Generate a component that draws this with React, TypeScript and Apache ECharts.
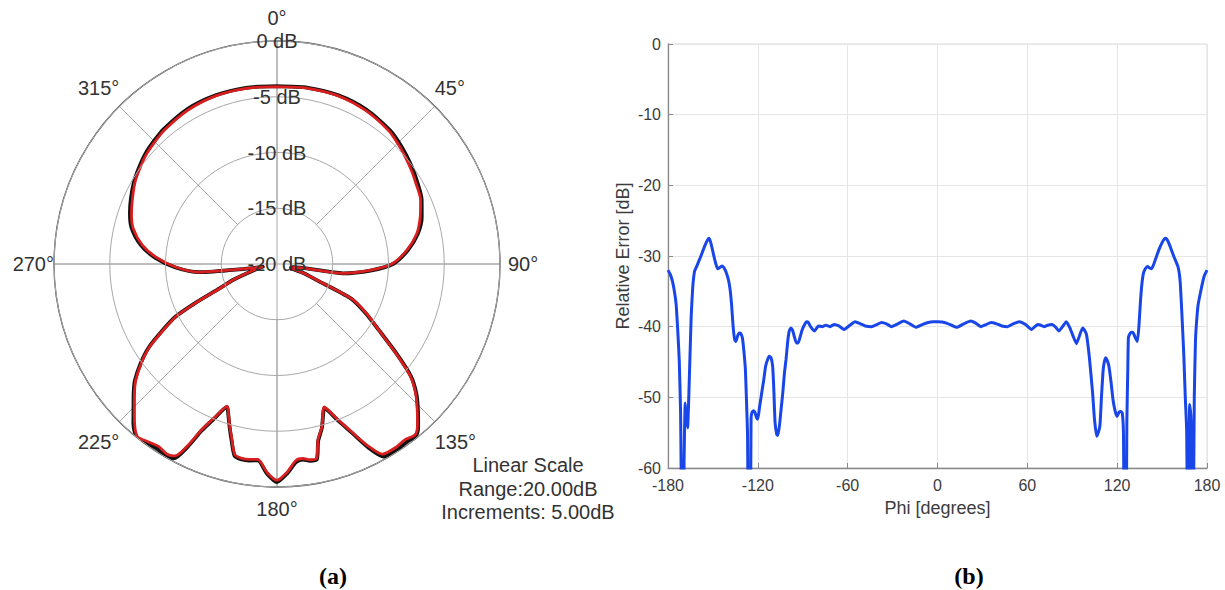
import React, { useEffect, useRef } from 'react';
import * as echarts from 'echarts';

const FONT = '"Liberation Sans", Arial, Helvetica, sans-serif';

// ---- Panel (a): polar pattern ----
const patternAngles = [
  0, 10, 20, 30, 40, 45, 50, 55, 60, 66, 72, 78, 84, 90, 94, 98, 101, 105, 109, 112,
  115, 119, 123, 127, 130, 133, 136, 139, 141, 144, 147, 151, 153.5, 156, 159, 161.8, 163, 164.7, 166.9, 168.5,
  170.5, 172.4, 174.5, 177.2, 180, 182.8, 185.6, 188, 190.5, 192.5, 194.5, 196.5, 198, 199.3, 202, 204.4,
  206, 208, 210, 213, 216, 219, 222, 225, 228, 230.6, 234, 237, 240, 242.5, 244.5, 247, 250, 255, 259,
  261.5, 264, 268, 273, 278, 284, 289, 294, 300, 305, 310, 315, 320, 330, 340, 350, 360,
];
const measuredDb = [
  -4.1, -4.0, -3.95, -4.1, -4.4, -4.7, -5.0, -5.3, -5.6, -5.9, -6.5, -7.2, -8.3, -9.7, -11.7, -14.0, -18.4, -18.6, -17.4, -16.1,
  -12.6, -10.8, -9.1, -6.6, -4.4, -3.0, -1.9, -0.8, -0.3, -0.5, -0.4, -0.5, -1.8, -3.5, -5.2, -6.5, -5.9, -4.8, -3.8, -2.2,
  -2.2, -2.4, -2.3, -1.3, -0.6, -1.3, -2.4, -2.3, -2.3, -2.5, -3.8, -5.0, -5.9, -6.5, -5.2, -3.7,
  -2.0, -0.5, -0.3, -0.5, -0.3, -0.1, -0.9, -1.9, -2.8, -3.6, -5.0, -6.4, -8.3, -9.8, -12.0, -14.5, -15.8, -17.8, -18.6,
  -17.0, -13.0, -11.0, -9.2, -7.8, -6.7, -6.2, -5.8, -5.3, -5.0, -4.7, -4.5, -4.3, -4.05, -3.95, -4.0, -4.1,
];
const simulatedDb = [
  -4.05, -3.95, -3.9, -4.0, -4.3, -4.55, -4.85, -5.15, -5.45, -5.8, -6.35, -7.1, -8.2, -9.6, -11.6, -14.0, -18.5, -18.7, -17.5, -16.2,
  -12.7, -10.9, -9.1, -6.5, -4.3, -2.9, -1.8, -0.7, -0.2, -0.25, -0.15, -0.25, -1.6, -3.4, -5.1, -6.4, -5.85, -4.75, -3.7, -2.1,
  -2.1, -2.3, -2.15, -1.2, -0.45, -1.2, -2.3, -2.2, -2.2, -2.4, -3.7, -4.95, -5.85, -6.4, -5.1, -3.55,
  -1.8, -0.25, -0.05, -0.25, -0.1, 0.0, -0.75, -1.8, -2.7, -3.5, -4.9, -6.3, -8.2, -9.7, -11.9, -14.4, -15.8, -17.9, -18.7,
  -17.1, -13.0, -10.9, -9.05, -7.65, -6.55, -6.05, -5.65, -5.2, -4.9, -4.6, -4.4, -4.2, -3.95, -3.9, -3.95, -4.05,
];
const radiusTicks = { min: -20, max: 0, step: 5 };
const angleTicks = { min: 0, max: 360, step: 45 };
const noteLines = ['Linear Scale', 'Range:20.00dB', 'Increments: 5.00dB'];

// ---- Panel (b): relative error ----
const phiDeg = [
  -180, -178.5, -177, -175.5, -174.5, -173.5, -172.5, -171.6, -170.8, -169.8, -169.2, -168.5, -167.7, -166.9, -166.2, -165.3, -164.5, -163.5, -162.3, -160.9,
  -158.2, -155.5, -153.5, -152.5, -151.3, -150, -148.7, -147.5, -146.5, -145.2, -143.8, -142.5, -141, -139.5, -138.5, -137.5, -136.5, -135.5, -134.6, -133.5,
  -132.4, -131.3, -130.3, -129.3, -128.3, -127.5, -126.9, -126.3, -125, -124.5, -124, -123, -122, -121, -120.2, -119.5, -118.8, -117.5, -116.1, -114.8,
  -113.4, -112.3, -111.2, -110.1, -109.3, -108.5, -107.4, -106.6, -105.6, -104.6, -103.4, -102.2, -101.2, -100, -99, -97.9, -96.8, -95.5, -94.2, -93.1,
  -91.8, -90.5, -89, -87.5, -86.3, -84.8, -82.2, -79.5, -77, -74.5, -72, -69, -65.9, -62.4, -58.5, -55.1, -51.5, -48.3, -44, -40.5,
  -37.4, -34, -30.7, -26.5, -22.5, -18.5, -14.4, -10.2, -6.2, -3, 0, 3, 6, 9.5, 12.8, 17.5, 22.2, 25.5, 29, 32.5,
  35.8, 39.5, 43, 46.7, 50.5, 54.8, 58.8, 62.9, 65, 67, 69, 71.1, 73.5, 76.5, 79, 81.1, 83.5, 86, 88.5, 90.5,
  92.8, 94.5, 96.9, 98.5, 99.6, 101.5, 103.6, 104.8, 106.3, 107.4, 108.5, 109.5, 110.5, 111.2, 112.3, 113.4, 114.5, 116, 117.2, 118.5,
  119.9, 121.3, 122.4, 123.4, 124.2, 124.7, 126, 126.5, 127.1, 127.5, 128.5, 129.7, 130.8, 132, 133.5, 134.5, 135.6, 136.5, 137.5, 138.8,
  140.3, 141.7, 143, 144.2, 145.7, 147.9, 150, 151.5, 152.5, 153.7, 155.3, 157.9, 160.6, 161.5, 162.2, 163.3, 164.5, 165.5, 166.4, 167,
  167.8, 168.4, 169.2, 169.8, 170.3, 170.9, 171.5, 172.3, 172.8, 174, 175.5, 177, 178.2, 180,
];
const relErrDb = [
  -32.0, -32.6, -33.6, -35.3, -37.0, -40.5, -44.7, -52.0, -66, -66, -58, -50.8, -52.5, -54.3, -50.5, -44.0, -38.5, -34.5, -32.2, -31.5,
  -30.1, -28.6, -27.7, -27.5, -28.2, -29.4, -30.6, -31.5, -31.8, -31.6, -31.4, -31.7, -32.4, -33.5, -34.8, -37.0, -40.0, -41.8, -42.1, -41.3,
  -40.9, -41.0, -41.6, -43.5, -46.1, -51.0, -55.0, -66, -66, -53.0, -52.2, -51.9, -52.1, -52.8, -53.1, -52.4, -51.3, -49.5, -47.6, -45.6,
  -44.6, -44.2, -44.4, -45.6, -49.0, -53.5, -55.2, -55.4, -54.0, -52.0, -49.5, -46.5, -44.7, -42.0, -40.6, -40.2, -40.5, -41.5, -42.3, -42.3,
  -41.5, -40.5, -39.8, -39.3, -39.4, -40.0, -40.6, -39.9, -40.0, -39.8, -40.0, -39.7, -39.9, -40.4, -39.8, -39.3, -39.6, -39.9, -40.0, -39.7,
  -39.4, -39.6, -40.0, -39.6, -39.2, -39.6, -40.1, -39.7, -39.4, -39.3, -39.3, -39.35, -39.5, -39.8, -40.1, -39.6, -39.2, -39.5, -40.0, -39.7,
  -39.4, -39.6, -39.9, -40.0, -39.6, -39.3, -39.7, -40.4, -40.0, -39.7, -39.8, -40.0, -39.8, -39.7, -40.1, -40.6, -40.0, -39.3, -40.2, -41.3,
  -42.4, -41.5, -40.2, -40.6, -41.2, -44.5, -49.4, -53.0, -55.5, -55.0, -54.0, -50.0, -46.5, -45.2, -44.4, -44.8, -45.6, -48.0, -50.3, -51.8,
  -52.7, -52.1, -52.0, -52.2, -55.0, -66, -66, -53.0, -46.0, -41.6, -41.0, -40.8, -40.9, -41.5, -42.1, -40.0, -36.3, -34.0, -32.5, -31.8,
  -31.5, -31.7, -31.8, -31.3, -30.4, -29.1, -28.1, -27.6, -27.5, -27.8, -28.6, -30.1, -31.5, -32.5, -34.0, -38.5, -44.0, -50.0, -54.5, -66,
  -66, -51.0, -52.5, -57.0, -66, -66, -50.0, -42.0, -40.0, -37.0, -35.3, -33.8, -32.8, -32.0,
];
const phiTicks = { min: -180, max: 180, step: 60 };
const errTicks = { min: -60, max: 0, step: 10 };
const panelLabels = ['(a)', '(b)'];

function angleLabelStyle(pad: number[]) {
  return { fontSize: 20, fontFamily: FONT, color: '#333333', padding: pad };
}

function buildOption(): echarts.EChartsOption {
  const measured = patternAngles.map((a, i) => [measuredDb[i], a]);
  const simulated = patternAngles.map((a, i) => [simulatedDb[i], a]);
  const errData = phiDeg.map((p, i) => [p, relErrDb[i]]);
  const gridGray = '#a8a8a8';
  const labelColor = '#333333';
  const noteYs = [465, 489, 512];
  const richKey: Record<number, string> = {
    0: 'top', 45: 'upR', 90: 'right', 135: 'lowR', 180: 'bot', 225: 'lowL', 270: 'left', 315: 'upL',
  };
  return {
    animation: false,
    backgroundColor: '#ffffff',
    textStyle: { fontFamily: FONT },
    polar: [
      { center: [277, 264], radius: [0, 223] },
      { center: [277, 264], radius: [55, 223] },
    ],
    angleAxis: [
      {
        polarIndex: 0,
        type: 'value',
        min: angleTicks.min,
        max: angleTicks.max,
        interval: 90,
        startAngle: 90,
        clockwise: true,
        axisLine: { show: true, lineStyle: { color: '#4a4a4a', width: 1.3 } },
        axisTick: { show: false },
        axisLabel: { show: false },
        splitLine: { show: true, lineStyle: { color: gridGray, width: 1 } },
      },
      {
        polarIndex: 1,
        type: 'value',
        min: angleTicks.min,
        max: angleTicks.max,
        interval: angleTicks.step,
        startAngle: 90,
        clockwise: true,
        axisLine: { show: false },
        axisTick: { show: false },
        axisLabel: {
          show: true,
          margin: 0,
          fontSize: 20,
          fontFamily: FONT,
          color: labelColor,
          formatter: (v: number) => (v >= 360 ? '' : `{${richKey[v] || 'top'}|${v}°}`),
          rich: {
            top: angleLabelStyle([0, 0, 13, 0]),
            bot: angleLabelStyle([12, 0, 0, 0]),
            right: angleLabelStyle([0, 0, 0, 8]),
            left: angleLabelStyle([0, 0, 0, 0]),
            upR: angleLabelStyle([0, 0, 8, 0]),
            upL: angleLabelStyle([0, 0, 8, 0]),
            lowR: angleLabelStyle([10, 0, 0, 0]),
            lowL: angleLabelStyle([10, 0, 0, 0]),
          },
        },
        splitLine: { show: true, lineStyle: { color: gridGray, width: 1 } },
      },
    ],
    radiusAxis: [
      {
        polarIndex: 0,
        type: 'value',
        min: radiusTicks.min,
        max: radiusTicks.max,
        interval: radiusTicks.step,
        axisLine: { show: false },
        axisTick: { show: false },
        axisLabel: {
          show: true,
          margin: 0,
          align: 'center',
          verticalAlign: 'middle',
          fontSize: 20,
          fontFamily: FONT,
          color: labelColor,
          showMinLabel: true,
          showMaxLabel: true,
          formatter: '{value} dB',
        },
        splitLine: { show: true, lineStyle: { color: gridGray, width: 1 } },
        z: 5,
      },
      {
        polarIndex: 1,
        type: 'value',
        min: 0,
        max: 1,
        show: false,
        splitLine: { show: false },
      },
    ],
    grid: {
      left: 668,
      top: 44,
      width: 539,
      height: 424,
      show: true,
      borderColor: '#d8d8d8',
      borderWidth: 1,
      backgroundColor: 'transparent',
    },
    xAxis: {
      type: 'value',
      min: phiTicks.min,
      max: phiTicks.max,
      interval: phiTicks.step,
      axisLine: { show: true, onZero: false, lineStyle: { color: '#8a8a8a', width: 1.3 } },
      axisTick: { show: true, inside: true, length: 5, lineStyle: { color: '#8a8a8a' } },
      axisLabel: { fontSize: 16, color: '#3c3c3c', margin: 9, fontFamily: FONT },
      splitLine: { show: true, lineStyle: { color: '#e6e6e6', width: 1 } },
      name: 'Phi [degrees]',
      nameLocation: 'middle',
      nameGap: 31,
      nameTextStyle: { fontSize: 18, color: '#3c3c3c', fontFamily: FONT },
    },
    yAxis: {
      type: 'value',
      min: errTicks.min,
      max: errTicks.max,
      interval: errTicks.step,
      axisLine: { show: true, onZero: false, lineStyle: { color: '#8a8a8a', width: 1.3 } },
      axisTick: { show: true, inside: true, length: 5, lineStyle: { color: '#8a8a8a' } },
      axisLabel: { fontSize: 16, color: '#3c3c3c', margin: 7, fontFamily: FONT },
      splitLine: { show: true, lineStyle: { color: '#e6e6e6', width: 1 } },
      name: 'Relative Error [dB]',
      nameLocation: 'middle',
      nameRotate: 90,
      nameGap: 36,
      nameTextStyle: { fontSize: 18, color: '#3c3c3c', fontFamily: FONT },
    },
    series: [
      {
        type: 'line',
        coordinateSystem: 'polar',
        polarIndex: 0,
        data: simulated,
        symbol: 'none',
        smooth: 0.25,
        lineStyle: { color: '#111111', width: 3.8, join: 'round' },
        z: 3,
      },
      {
        type: 'line',
        coordinateSystem: 'polar',
        polarIndex: 0,
        data: measured,
        symbol: 'none',
        smooth: 0.25,
        lineStyle: { color: '#d81e1e', width: 2.8, join: 'round' },
        z: 4,
      },
      {
        type: 'line',
        xAxisIndex: 0,
        yAxisIndex: 0,
        data: errData,
        symbol: 'none',
        smooth: 0.15,
        clip: true,
        lineStyle: { color: '#1846e8', width: 3, join: 'round' },
        z: 4,
      },
    ],
    graphic: [
      ...noteLines.map((t, i) => ({
        type: 'text' as const,
        x: 528,
        y: noteYs[i],
        style: {
          text: t,
          fontSize: 20,
          fontFamily: FONT,
          fill: labelColor,
          align: 'center',
          verticalAlign: 'middle',
        },
      })),
      ...panelLabels.map((t, i) => ({
        type: 'text' as const,
        x: i === 0 ? 333 : 969,
        y: 576,
        style: {
          text: t,
          fontSize: 24,
          fontWeight: 'bold',
          fontFamily: '"Liberation Serif", "Times New Roman", serif',
          fill: '#000000',
          align: 'center',
          verticalAlign: 'middle',
        },
      })),
    ],
  } as echarts.EChartsOption;
}

export default function App() {
  const ref = useRef<HTMLDivElement>(null);
  useEffect(() => {
    if (!ref.current) return;
    const chart = echarts.init(ref.current, null, { renderer: 'svg' });
    chart.setOption(buildOption());
    return () => {
      chart.dispose();
    };
  }, []);
  return (
    <div
      ref={ref}
      style={{ position: 'fixed', left: 0, top: 0, width: 1225, height: 590, background: '#ffffff' }}
    />
  );
}
